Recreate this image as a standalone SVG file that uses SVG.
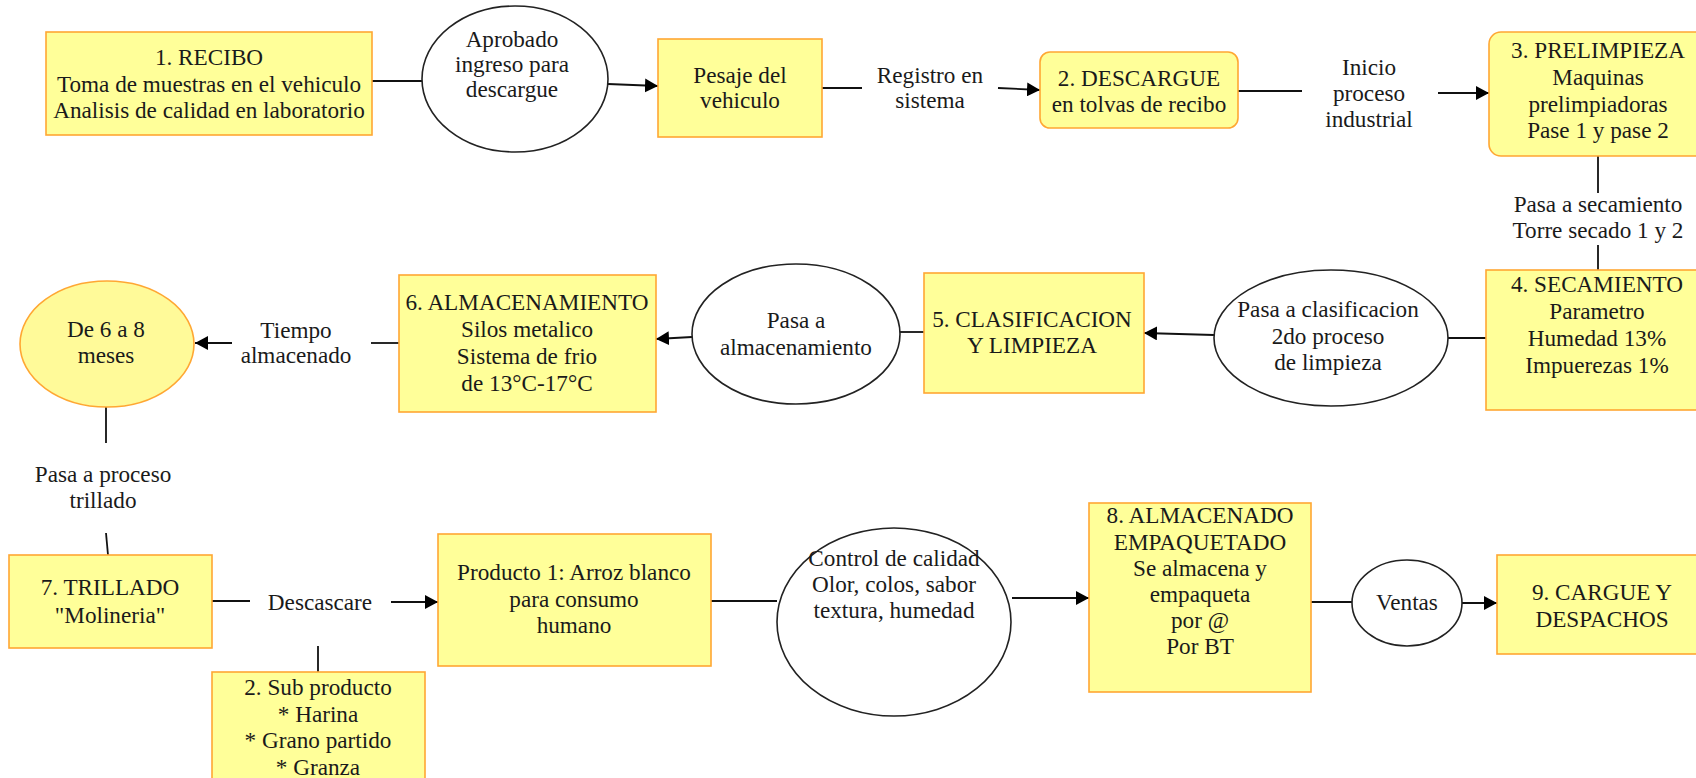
<svg xmlns="http://www.w3.org/2000/svg" width="1696" height="778" viewBox="0 0 1696 778">
<defs>
<style>
.box{fill:#FFFF99;stroke:#FFA733;stroke-width:1.6}
.ell{fill:#FFFFFF;stroke:#222;stroke-width:1.6}
.yell{fill:#FFFA99;stroke:#FFA733;stroke-width:1.6}
.ln{fill:none;stroke:#111;stroke-width:1.8}
.ar{fill:none;stroke:#111;stroke-width:1.8;marker-end:url(#ah)}
text{font-family:"Liberation Serif","Times New Roman",serif;font-size:23.2px;fill:#1a1a1a;text-anchor:middle}
</style>
<marker id="ah" markerUnits="userSpaceOnUse" markerWidth="14" markerHeight="14" refX="13" refY="7" orient="auto">
<path d="M0,0 L13,7 L0,14 Z" fill="#000"/>
</marker>
</defs>
<rect width="1696" height="778" fill="#FFFFFF"/>

<g id="connectors">
<line class="ln" x1="372" y1="81" x2="422" y2="81"/>
<line class="ar" x1="608" y1="84" x2="658" y2="86"/>
<line class="ln" x1="822" y1="88" x2="862" y2="88"/>
<line class="ar" x1="998" y1="88" x2="1040" y2="90"/>
<line class="ln" x1="1238" y1="91" x2="1302" y2="91"/>
<line class="ar" x1="1438" y1="93" x2="1489" y2="93"/>
<line class="ln" x1="1598" y1="156" x2="1598" y2="193"/>
<line class="ln" x1="1598" y1="245" x2="1598" y2="270"/>
<line class="ln" x1="1448" y1="338" x2="1486" y2="338"/>
<line class="ar" x1="1214" y1="335" x2="1144" y2="333"/>
<line class="ln" x1="924" y1="332" x2="900" y2="332"/>
<line class="ar" x1="692" y1="337" x2="656" y2="339"/>
<line class="ln" x1="399" y1="343" x2="371" y2="343"/>
<line class="ar" x1="232" y1="343" x2="195" y2="343"/>
<line class="ln" x1="106" y1="407" x2="106" y2="443"/>
<line class="ln" x1="106" y1="533" x2="108" y2="555"/>
<line class="ln" x1="212" y1="601" x2="250" y2="601"/>
<line class="ar" x1="391" y1="602" x2="438" y2="602"/>
<line class="ln" x1="318" y1="646" x2="318" y2="672"/>
<line class="ln" x1="711" y1="601" x2="777" y2="601"/>
<line class="ar" x1="1012" y1="598" x2="1089" y2="598"/>
<line class="ln" x1="1311" y1="602" x2="1352" y2="602"/>
<line class="ar" x1="1462" y1="603" x2="1497" y2="603"/>
<text x="930" y="83">Registro en</text>
<text x="930" y="108">sistema</text>
<text x="1369" y="75">Inicio</text>
<text x="1369" y="101">proceso</text>
<text x="1369" y="127">industrial</text>
<text x="1598" y="212">Pasa a secamiento</text>
<text x="1598" y="238">Torre secado 1 y 2</text>
<text x="296" y="338">Tiempo</text>
<text x="296" y="363">almacenado</text>
<text x="103" y="482">Pasa a proceso</text>
<text x="103" y="508">trillado</text>
<text x="320" y="610">Descascare</text>
</g>

<g id="n1">
<rect class="box" x="46" y="32" width="326" height="103"/>
<text x="209" y="65">1. RECIBO</text>
<text x="209" y="92">Toma de muestras en el vehiculo</text>
<text x="209" y="118">Analisis de calidad en laboratorio</text>
</g>
<g id="e1">
<ellipse class="ell" cx="515" cy="79" rx="93" ry="73"/>
<text x="512" y="47">Aprobado</text>
<text x="512" y="72">ingreso para</text>
<text x="512" y="97">descargue</text>
</g>
<g id="n_pesaje">
<rect class="box" x="658" y="39" width="164" height="98"/>
<text x="740" y="83">Pesaje del</text>
<text x="740" y="108">vehiculo</text>
</g>
<g id="n2">
<rect class="box" x="1040" y="52" width="198" height="76" rx="10"/>
<text x="1139" y="86">2. DESCARGUE</text>
<text x="1139" y="112">en tolvas de recibo</text>
</g>
<g id="n3">
<rect class="box" x="1489" y="32" width="219" height="124" rx="12"/>
<text x="1598" y="58">3. PRELIMPIEZA</text>
<text x="1598" y="85">Maquinas</text>
<text x="1598" y="112">prelimpiadoras</text>
<text x="1598" y="138">Pase 1 y pase 2</text>
</g>
<g id="n4">
<rect class="box" x="1486" y="270" width="222" height="140"/>
<text x="1597" y="292">4. SECAMIENTO</text>
<text x="1597" y="319">Parametro</text>
<text x="1597" y="346">Humedad 13%</text>
<text x="1597" y="373">Impuerezas 1%</text>
</g>
<g id="e2">
<ellipse class="ell" cx="1331" cy="338" rx="117" ry="68"/>
<text x="1328" y="317">Pasa a clasificacion</text>
<text x="1328" y="344">2do proceso</text>
<text x="1328" y="370">de limpieza</text>
</g>
<g id="n5">
<rect class="box" x="924" y="273" width="220" height="120"/>
<text x="1032" y="327">5. CLASIFICACION</text>
<text x="1032" y="353">Y LIMPIEZA</text>
</g>
<g id="e3">
<ellipse class="ell" cx="796" cy="334" rx="104" ry="70"/>
<text x="796" y="328">Pasa a</text>
<text x="796" y="355">almacenamiento</text>
</g>
<g id="n6">
<rect class="box" x="399" y="275" width="257" height="137"/>
<text x="527" y="310">6. ALMACENAMIENTO</text>
<text x="527" y="337">Silos metalico</text>
<text x="527" y="364">Sistema de frio</text>
<text x="527" y="391">de 13°C-17°C</text>
</g>
<g id="e4">
<ellipse class="yell" cx="107" cy="344" rx="87" ry="63"/>
<text x="106" y="337">De 6 a 8</text>
<text x="106" y="363">meses</text>
</g>
<g id="n7">
<rect class="box" x="9" y="555" width="203" height="93"/>
<text x="110" y="595">7. TRILLADO</text>
<text x="110" y="623">"Molineria"</text>
</g>
<g id="n_producto">
<rect class="box" x="438" y="534" width="273" height="132"/>
<text x="574" y="580">Producto 1: Arroz blanco</text>
<text x="574" y="607">para consumo</text>
<text x="574" y="633">humano</text>
</g>
<g id="n_sub">
<rect class="box" x="212" y="672" width="213" height="120"/>
<text x="318" y="695">2. Sub producto</text>
<text x="318" y="722">* Harina</text>
<text x="318" y="748">* Grano partido</text>
<text x="318" y="775">* Granza</text>
</g>
<g id="e5">
<ellipse class="ell" cx="894" cy="622" rx="117" ry="94"/>
<text x="894" y="566">Control de calidad</text>
<text x="894" y="592">Olor, colos, sabor</text>
<text x="894" y="618">textura, humedad</text>
</g>
<g id="n8">
<rect class="box" x="1089" y="503" width="222" height="189"/>
<text x="1200" y="523">8. ALMACENADO</text>
<text x="1200" y="550">EMPAQUETADO</text>
<text x="1200" y="576">Se almacena y</text>
<text x="1200" y="602">empaqueta</text>
<text x="1200" y="628">por @</text>
<text x="1200" y="654">Por BT</text>
</g>
<g id="e6">
<ellipse class="ell" cx="1407" cy="603" rx="55" ry="43"/>
<text x="1407" y="610">Ventas</text>
</g>
<g id="n9">
<rect class="box" x="1497" y="555" width="212" height="99"/>
<text x="1602" y="600">9. CARGUE Y</text>
<text x="1602" y="627">DESPACHOS</text>
</g>
</svg>
